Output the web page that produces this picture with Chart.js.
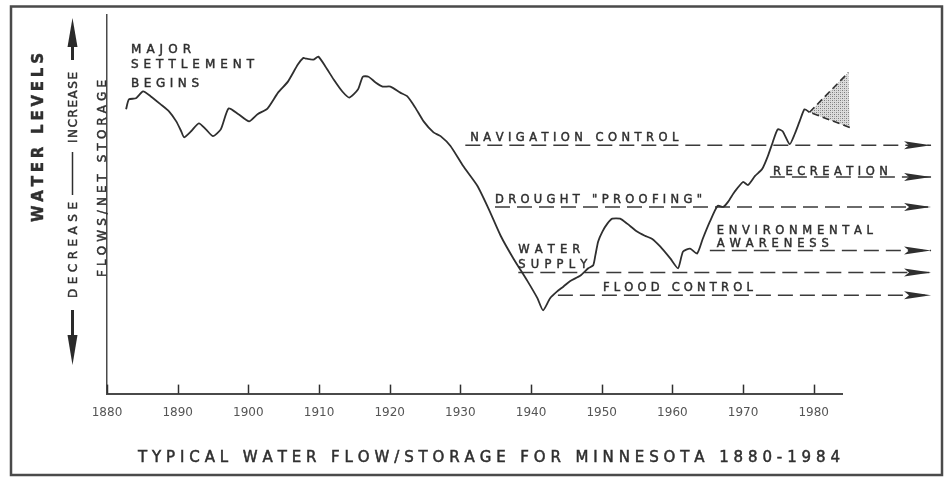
<!DOCTYPE html>
<html><head><meta charset="utf-8">
<script src="https://cdn.jsdelivr.net/npm/chart.js@4.4.0/dist/chart.umd.min.js"></script>
<style>html,body{margin:0;padding:0;background:#fff;}#wrap{width:949px;height:477px;position:relative;}canvas{display:block;}</style>
</head><body><div id="wrap"><canvas id="c" width="949" height="477"></canvas></div>
<script>
// ---------- DATA ----------
const years = [1882.7,1883.1,1884.1,1885.1,1886.2,1887.6,1888.8,1889.8,1890.5,1890.9,1891.9,1893.0,1894.0,1895.0,1896.1,1897.2,1898.6,1900.1,1901.3,1902.7,1904.2,1905.6,1907.0,1907.8,1908.1,1909.2,1909.9,1910.9,1912.1,1913.3,1914.3,1915.5,1916.2,1917.0,1918.0,1919.0,1920.1,1921.5,1922.5,1923.6,1924.8,1926.2,1927.2,1928.6,1930.4,1932.4,1934.0,1935.7,1937.5,1939.5,1940.9,1941.7,1942.7,1943.7,1944.6,1945.5,1947.0,1948.1,1948.8,1949.1,1949.5,1950.1,1950.8,1951.5,1952.6,1953.6,1955.0,1956.1,1957.1,1958.3,1959.7,1960.8,1961.5,1962.5,1963.5,1964.3,1965.3,1966.4,1967.2,1967.9,1968.8,1970.0,1970.7,1971.7,1972.7,1973.5,1974.2,1974.9,1975.6,1976.6,1977.3,1978.0,1978.7,1979.4];
const flowLevel = [75.1,77.7,78.0,79.8,78.5,76.4,74.5,71.9,69.3,67.7,69.3,71.4,69.8,68.0,69.8,75.3,73.8,71.9,73.8,75.3,79.5,82.4,86.9,88.7,88.5,88.2,89.0,86.4,82.9,79.8,78.2,80.3,83.7,83.7,82.2,81.1,81.1,79.5,78.5,75.6,71.9,69.0,68.0,65.4,60.1,54.9,48.8,41.7,35.7,29.7,25.2,22.0,25.2,27.0,28.3,29.7,31.2,33.1,33.9,36.5,40.2,42.8,44.9,46.2,46.2,44.9,42.8,41.7,40.9,38.8,35.7,33.1,37.5,38.3,37.0,40.9,45.4,49.6,49.3,50.7,53.3,55.9,55.1,57.5,59.3,62.7,66.4,69.8,69.3,65.9,68.5,71.9,75.1,74.3];
const outlookYears = [1979.4, 1984.9, 1985.1, 1979.4];
const outlookLevel = [74.3, 84.8, 70.3, 74.3];
const useNames = [['NAVIGATION CONTROL'], ['RECREATION'], ['DROUGHT "PROOFING"'], ['ENVIRONMENTAL','AWARENESS'], ['WATER','SUPPLY'], ['FLOOD CONTROL']];
const useStartYear = [1930.7, 1973.8, 1934.9, 1965.3, 1938.2, 1943.8];
const useLevel = [65.6, 57.2, 49.3, 37.8, 32.0, 26.0];
const arrowTipYear = 1996.6;
const tickYears = [1880,1890,1900,1910,1920,1930,1940,1950,1960,1970,1980];
const tickLabels = ['1880','1890','1900','1910','1920','1930','1940','1950','1960','1970','1980'];
const chartTitle = 'TYPICAL WATER FLOW/STORAGE FOR MINNESOTA 1880-1984';
const yAxisTitle = 'WATER LEVELS';
const yAxisSubtitle = 'FLOWS/NET STORAGE';
const increaseText = 'INCREASE';
const decreaseText = 'DECREASE';
const settlementNote = ['MAJOR', 'SETTLEMENT', 'BEGINS'];

// ---------- LAYOUT / STYLE ----------
const INK = '#2f2f2f';
const FONT = '"DejaVu Sans", sans-serif';
const labelLayout = [
  {dx:5,  dy:[-4],      w:[208]},
  {dx:3,  dy:[-2],      w:[115]},
  {dx:0,  dy:[-4],      w:[207]},
  {dx:7,  dy:[-16,-3],  w:[156,112]},
  {dx:0,  dy:[-19,-4],  w:[62,69]},
  {dx:45, dy:[-4],      w:[150]}
];

function drawSpaced(ctx, text, x, y, width) {
  const chars = Array.from(text);
  const ws = chars.map(c => ctx.measureText(c).width);
  const total = ws.reduce((a, b) => a + b, 0);
  const sp = chars.length > 1 ? (width - total) / (chars.length - 1) : 0;
  let cx = x;
  chars.forEach((c, i) => { ctx.fillText(c, cx, y); ctx.strokeText(c, cx, y); cx += ws[i] + sp; });
}
function drawVertical(ctx, text, baseX, bottomY, length) {
  ctx.save();
  ctx.translate(baseX, bottomY);
  ctx.rotate(-Math.PI / 2);
  drawSpaced(ctx, text, 0, 0, length);
  ctx.restore();
}

// stipple pattern for the outlook wedge
const pat = document.createElement('canvas');
pat.width = 4; pat.height = 4;
(function(){ const p = pat.getContext('2d'); p.fillStyle = '#dcdcdc'; p.fillRect(0,0,4,4); p.fillStyle = '#7a7a7a'; p.fillRect(0,0,1,1); p.fillRect(2,2,1,1); p.fillStyle = '#a8a8a8'; p.fillRect(2,0,1,1); p.fillRect(0,2,1,1); })();

const decor = {
  id: 'decor',
  beforeDraw(chart) {
    const ctx = chart.ctx;
    ctx.save(); ctx.fillStyle = '#fff'; ctx.fillRect(0, 0, chart.width, chart.height); ctx.restore();
  },
  beforeDatasetsDraw(chart) {
    const ctx = chart.ctx, xs = chart.scales.x, ys = chart.scales.y;
    ctx.save();
    ctx.beginPath();
    outlookYears.forEach((yr, i) => {
      const px = xs.getPixelForValue(yr), py = ys.getPixelForValue(outlookLevel[i]);
      if (i) ctx.lineTo(px, py); else ctx.moveTo(px, py);
    });
    ctx.closePath();
    ctx.fillStyle = ctx.createPattern(pat, 'repeat');
    ctx.fill();
    ctx.restore();
  },
  afterDraw(chart) {
    const ctx = chart.ctx, xs = chart.scales.x, ys = chart.scales.y, area = chart.chartArea;
    ctx.save();
    // frame
    ctx.strokeStyle = '#4a4a4a'; ctx.lineWidth = 2.5;
    ctx.strokeRect(11, 6.5, 931, 468.5);
    // inward tick marks
    ctx.strokeStyle = INK; ctx.lineWidth = 1.5;
    tickYears.forEach(t => {
      const px = Math.round(xs.getPixelForValue(t)) + 0.5;
      ctx.beginPath(); ctx.moveTo(px, area.bottom); ctx.lineTo(px, area.bottom - 9); ctx.stroke();
    });
    // arrowheads on the use lines
    ctx.fillStyle = INK;
    useLevel.forEach(v => {
      const tx = xs.getPixelForValue(arrowTipYear), py = ys.getPixelForValue(v);
      ctx.beginPath(); ctx.moveTo(tx, py); ctx.lineTo(tx - 27, py - 4); ctx.lineTo(tx - 22, py); ctx.lineTo(tx - 27, py + 4); ctx.closePath(); ctx.fill();
    });
    // text styling (slightly heavier strokes like stencil lettering)
    ctx.strokeStyle = INK; ctx.lineWidth = 0.45;
    ctx.textAlign = 'left'; ctx.textBaseline = 'alphabetic';
    ctx.font = '11.5px ' + FONT;
    useNames.forEach((lines, i) => {
      const lx = xs.getPixelForValue(useStartYear[i]) + labelLayout[i].dx;
      const ly = ys.getPixelForValue(useLevel[i]);
      lines.forEach((s, j) => drawSpaced(ctx, s, lx, ly + labelLayout[i].dy[j], labelLayout[i].w[j]));
    });
    // settlement note
    ctx.font = '12px ' + FONT;
    drawSpaced(ctx, settlementNote[0], 131, 53, 60);
    drawSpaced(ctx, settlementNote[1], 131, 68, 123);
    drawSpaced(ctx, settlementNote[2], 131, 87, 68);
    // left axis labels
    ctx.font = 'bold 15px ' + FONT;
    drawVertical(ctx, yAxisTitle, 43, 222, 169);
    ctx.font = '12px ' + FONT;
    drawVertical(ctx, yAxisSubtitle, 106, 277, 197);
    drawVertical(ctx, increaseText, 77, 143, 71);
    drawVertical(ctx, decreaseText, 77, 298, 96);
    // dash between increase/decrease
    ctx.lineWidth = 1.5;
    ctx.beginPath(); ctx.moveTo(72.5, 152); ctx.lineTo(72.5, 195); ctx.stroke();
    // up arrow
    ctx.fillStyle = '#2a2a2a';
    ctx.beginPath(); ctx.moveTo(72.5, 18); ctx.lineTo(67.5, 47); ctx.lineTo(77.5, 47); ctx.closePath(); ctx.fill();
    ctx.fillRect(71, 45, 3, 15);
    // down arrow
    ctx.fillRect(71, 310, 3, 27);
    ctx.beginPath(); ctx.moveTo(67.5, 335); ctx.lineTo(77.5, 335); ctx.lineTo(72.5, 365); ctx.closePath(); ctx.fill();
    // title
    ctx.fillStyle = INK; ctx.lineWidth = 0.5;
    ctx.font = '15px ' + FONT;
    drawSpaced(ctx, chartTitle, 138, 462, 702);
    ctx.restore();
  }
};

const datasets = [{
  data: years.map((x, i) => ({x, y: flowLevel[i]})),
  borderColor: INK, borderWidth: 1.8, pointRadius: 0, tension: 0.2, fill: false
}, {
  data: outlookYears.map((x, i) => ({x, y: outlookLevel[i]})),
  borderColor: INK, borderWidth: 1.6, borderDash: [7, 4], pointRadius: 0, tension: 0, fill: false, clip: false,
  segment: { borderColor: c => c.p0DataIndex === 1 ? 'rgba(0,0,0,0)' : INK }
}];
useLevel.forEach((v, i) => datasets.push({
  data: [{x: useStartYear[i], y: v}, {x: arrowTipYear, y: v}],
  borderColor: '#3a3a3a', borderWidth: 1.5, borderDash: [15, 7], pointRadius: 0, fill: false, clip: false
}));

new Chart(document.getElementById('c'), {
  type: 'line',
  data: { datasets },
  options: {
    responsive: false, animation: false, devicePixelRatio: 1,
    layout: { padding: { left: 107, right: 107, top: 15, bottom: 45 } },
    plugins: { legend: { display: false }, tooltip: { enabled: false }, title: { display: false } },
    scales: {
      x: {
        type: 'linear', min: 1880, max: 1984,
        afterBuildTicks: s => { s.ticks = tickYears.map(v => ({value: v})); },
        grid: { display: false, drawTicks: false },
        border: { display: true, color: '#4a4a4a', width: 2 },
        ticks: { padding: 12, color: '#555', font: { family: 'DejaVu Sans', size: 12 }, maxRotation: 0, autoSkip: false,
                 callback: (v, i) => tickLabels[i] }
      },
      y: {
        type: 'linear', min: 0, max: 100,
        grid: { display: false, drawTicks: false },
        border: { display: true, color: '#4a4a4a', width: 1.5 },
        ticks: { display: false }
      }
    }
  },
  plugins: [decor]
});
</script>
</body></html>
